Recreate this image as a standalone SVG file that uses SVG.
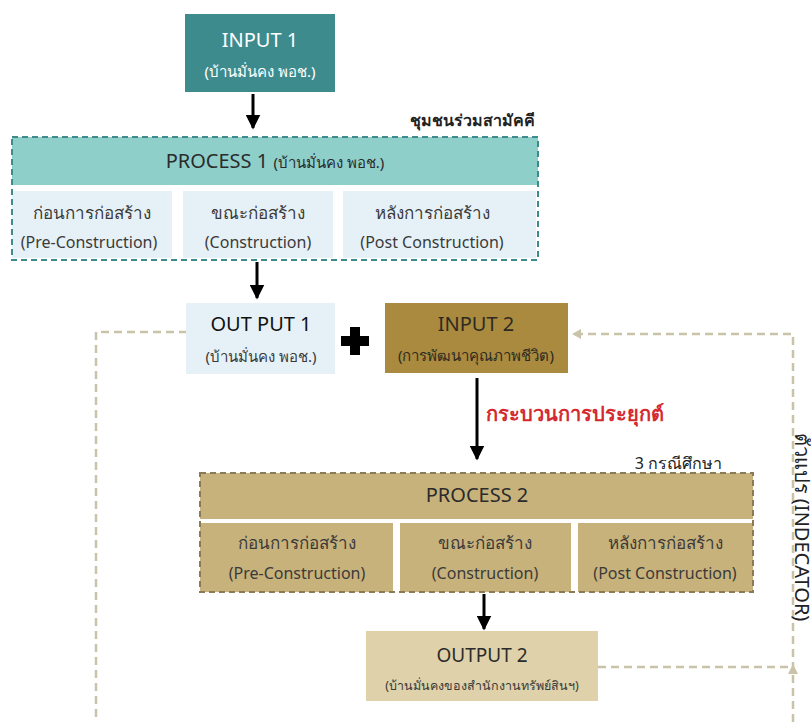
<svg xmlns="http://www.w3.org/2000/svg" width="811" height="722" viewBox="0 0 811 722">
<defs>
<style>
text{font-family:"Noto Sans","Liberation Sans",sans-serif;text-anchor:middle}
.t1{font-size:20px;fill:#2b2b2b}
.t2{font-size:15px;fill:#3a3a3a}
.c1{font-size:17px;fill:#3a3a3a}
.c2{font-size:16px;fill:#3a3a3a}
.dash{fill:none;stroke:#c9c3a9;stroke-width:2.5;stroke-dasharray:8 5}
.arr{stroke:#000;stroke-width:3;fill:none}
</style>
<marker id="ah" viewBox="0 0 10 10" refX="9" refY="5" markerWidth="5" markerHeight="5" orient="auto" markerUnits="strokeWidth"><path d="M0,0 L10,5 L0,10 z" fill="#000"/></marker>
</defs>
<rect width="811" height="722" fill="#fff"/>

<g id="connectors">
<line class="arr" x1="253" y1="94" x2="253" y2="128" marker-end="url(#ah)"/>
<line class="arr" x1="257" y1="262" x2="257" y2="298" marker-end="url(#ah)"/>
<line class="arr" x1="477" y1="378" x2="477" y2="459" marker-end="url(#ah)"/>
<line class="arr" x1="484" y1="594" x2="484" y2="629" marker-end="url(#ah)"/>
<path class="dash" d="M200,332 H96 V722"/>
<path class="dash" d="M793,722 V334 H572"/>
<path d="M572,334 l9,-5 v10 z" fill="#c9c3a9"/>
<path class="dash" d="M598,667 H793"/>
<path d="M793,664 l-5,10 h10 z" fill="#c9c3a9"/>
</g>

<g id="input1">
<rect x="185" y="14" width="150" height="78" fill="#3d8b8d"/>
<text x="260" y="47" class="t1" style="fill:#fff">INPUT 1</text>
<text x="260" y="77" class="t2" style="fill:#fff">(บ้านมั่นคง พอช.)</text>
</g>

<g id="process1">
<text x="535" y="126" style="font-size:16px;font-weight:bold;fill:#222;text-anchor:end">ชุมชนร่วมสามัคคี</text>
<rect x="12" y="137" width="526" height="48" fill="#8fcfca"/>
<rect x="12" y="191" width="160" height="67" fill="#e6f1f7"/>
<rect x="183" y="191" width="150" height="67" fill="#e6f1f7"/>
<rect x="343" y="191" width="193" height="67" fill="#e6f1f7"/>
<rect x="12" y="137" width="526" height="123" fill="none" stroke="#3d8b8d" stroke-width="2" stroke-dasharray="6 4"/>
<text x="275" y="168" class="t1">PROCESS 1 <tspan style="font-size:15px">(บ้านมั่นคง พอช.)</tspan></text>
<text x="92" y="219" class="c1">ก่อนการก่อสร้าง</text>
<text x="89" y="248" class="c2">(Pre-Construction)</text>
<text x="258" y="219" class="c1">ขณะก่อสร้าง</text>
<text x="258" y="248" class="c2">(Construction)</text>
<text x="432" y="219" class="c1">หลังการก่อสร้าง</text>
<text x="432" y="248" class="c2">(Post Construction)</text>
</g>

<g id="output1">
<rect x="186" y="303" width="149" height="71" fill="#e6f1f7"/>
<text x="261" y="331" class="t1" style="fill:#111">OUT PUT 1</text>
<text x="261" y="362" class="t2">(บ้านมั่นคง พอช.)</text>
</g>

<g id="plus">
<path d="M350,327 h10 v9 h9 v10 h-9 v9 h-10 v-9 h-9 v-10 h9 z" fill="#000"/>
</g>

<g id="input2">
<rect x="385" y="303" width="183" height="70" fill="#a98a3e"/>
<text x="476" y="331" class="t1" style="fill:#2e2a22">INPUT 2</text>
<text x="476" y="361" class="t2" style="fill:#2e2a22">(การพัฒนาคุณภาพชีวิต)</text>
</g>

<g id="apply-label">
<text x="486" y="421" style="font-size:20px;font-weight:bold;fill:#d42a2f;text-anchor:start">กระบวนการประยุกต์</text>
</g>

<g id="process2">
<text x="722" y="469" style="font-size:16px;fill:#222;text-anchor:end">3 กรณีศึกษา</text>
<rect x="200" y="473" width="553" height="46" fill="#c8b27b"/>
<rect x="200" y="523" width="193" height="69" fill="#c8b27b"/>
<rect x="400" y="523" width="171" height="69" fill="#c8b27b"/>
<rect x="578" y="523" width="175" height="69" fill="#c8b27b"/>
<rect x="200" y="473" width="553" height="119" fill="none" stroke="#8a7a56" stroke-width="2" stroke-dasharray="6 4"/>
<text x="477" y="502" class="t1">PROCESS 2</text>
<text x="297" y="549" class="c1">ก่อนการก่อสร้าง</text>
<text x="297" y="579" class="c2">(Pre-Construction)</text>
<text x="485" y="549" class="c1">ขณะก่อสร้าง</text>
<text x="485" y="579" class="c2">(Construction)</text>
<text x="665" y="549" class="c1">หลังการก่อสร้าง</text>
<text x="665" y="579" class="c2">(Post Construction)</text>
</g>

<g id="output2">
<rect x="366" y="631" width="232" height="70" fill="#dfd1a9"/>
<text x="482" y="662" style="font-size:19px;fill:#2b2b2b">OUTPUT 2</text>
<text x="482" y="690" style="font-size:12.5px;fill:#3a3a3a">(บ้านมั่นคงของสำนักงานทรัพย์สินฯ)</text>
</g>

<g id="indicator">
<text transform="translate(795,527) rotate(90)" style="font-size:20px;fill:#222">ตัวแปร (INDECATOR)</text>
</g>
</svg>
